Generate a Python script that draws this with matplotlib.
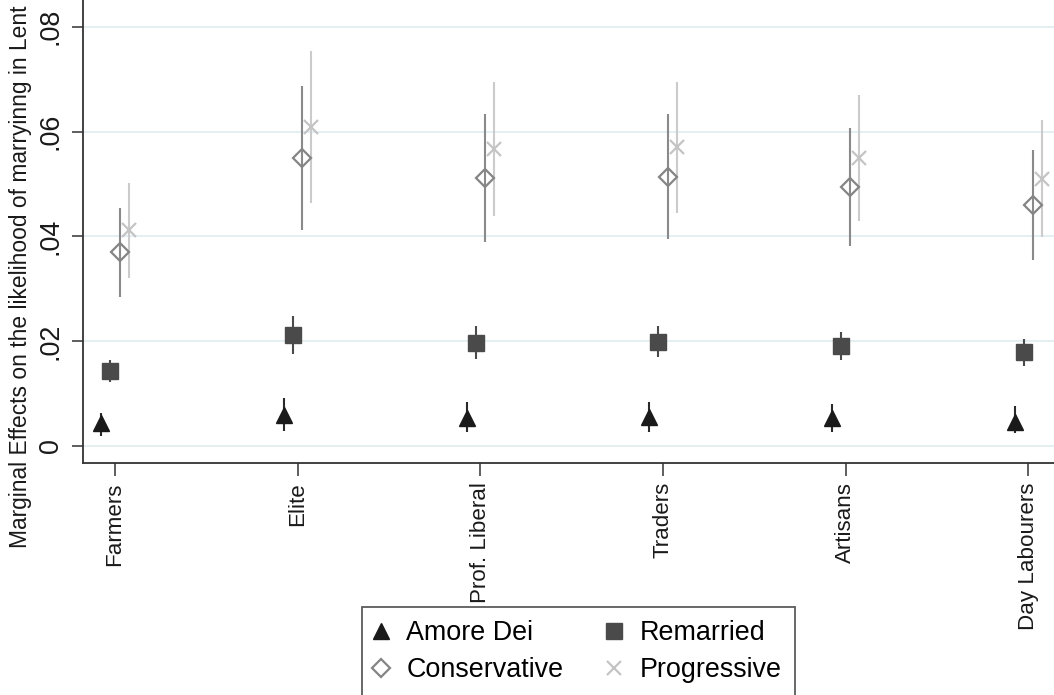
import matplotlib.pyplot as plt
import numpy as np

plt.rcParams['font.family'] = ['Liberation Sans', 'DejaVu Sans']

groups = ['Farmers', 'Elite', 'Prof. Liberal', 'Traders', 'Artisans', 'Day Labourers']
series = ['Amore Dei', 'Remarried', 'Conservative', 'Progressive']

# point estimates and 95% CI bounds
amore = [0.00445, 0.0059, 0.0053, 0.0056, 0.0054, 0.0046]
amore_lo = [0.0020, 0.0029, 0.0027, 0.0027, 0.0026, 0.0025]
amore_hi = [0.0062, 0.0091, 0.0083, 0.0083, 0.0081, 0.0076]

remar = [0.0143, 0.0212, 0.0196, 0.0198, 0.0191, 0.0179]
remar_lo = [0.0123, 0.0176, 0.0166, 0.0169, 0.0164, 0.0153]
remar_hi = [0.0165, 0.0248, 0.0228, 0.0228, 0.0218, 0.0204]

cons = [0.0370, 0.0550, 0.0511, 0.0514, 0.0495, 0.0460]
cons_lo = [0.0285, 0.0412, 0.0390, 0.0395, 0.0382, 0.0355]
cons_hi = [0.0454, 0.0686, 0.0633, 0.0633, 0.0607, 0.0565]

prog = [0.0412, 0.0609, 0.0566, 0.0570, 0.0549, 0.0509]
prog_lo = [0.0320, 0.0464, 0.0439, 0.0445, 0.0429, 0.0399]
prog_hi = [0.0502, 0.0754, 0.0695, 0.0695, 0.0670, 0.0622]

yticks = [0, 0.02, 0.04, 0.06, 0.08]
ytick_labels = ['0', '.02', '.04', '.06', '.08']

fig = plt.figure(figsize=(10.54, 6.95), dpi=100)
ax = fig.add_axes([83 / 1054, 1 - 462.7 / 695, 971 / 1054, 462.7 / 695])

x = np.arange(1, len(groups) + 1)
offsets = [-0.075, -0.025, 0.025, 0.075]
styles = [
    dict(fmt='^', ms=12, color='#1a1a1a', ecolor='#2a2a2a', mfc='#1a1a1a', mec='#1a1a1a', mew=1),
    dict(fmt='s', ms=11, color='#4a4a4a', ecolor='#4a4a4a', mfc='#4a4a4a', mec='#4a4a4a', mew=1),
    dict(fmt='D', ms=9.5, color='#858585', ecolor='#8a8a8a', mfc='none', mec='#858585', mew=1.6),
    dict(fmt='x', ms=10, color='#c4c4c4', ecolor='#cbcbcb', mfc='none', mec='#c4c4c4', mew=1.6),
]
data = [(amore, amore_lo, amore_hi), (remar, remar_lo, remar_hi),
        (cons, cons_lo, cons_hi), (prog, prog_lo, prog_hi)]

handles = []
for (est, lo, hi), off, st in zip(data, offsets, styles):
    est = np.array(est)
    err = [est - np.array(lo), np.array(hi) - est]
    eb = ax.errorbar(x + off, est, yerr=err, elinewidth=1.5, capsize=0, zorder=3, **st)
    handles.append(eb.lines[0])

ax.set_xlim(0.8248, 6.1407)
ax.set_ylim(-0.00319, 0.0851)
ax.set_yticks(yticks)
ax.set_yticklabels(ytick_labels)
ax.set_xticks(x)
ax.set_xticklabels(groups, rotation=90)
ax.grid(axis='y', color='#e2eef1', linewidth=1.3, zorder=0)
ax.set_axisbelow(True)

for s in ['top', 'right']:
    ax.spines[s].set_visible(False)
for s in ['left', 'bottom']:
    ax.spines[s].set_color('#333333')
    ax.spines[s].set_linewidth(1.3)

ax.tick_params(axis='y', labelrotation=90, labelsize=19.4, length=8, width=1.1,
               color='#333333', pad=6, labelcolor='#1a1a1a')
ax.tick_params(axis='x', labelsize=16.1, length=9, width=1.1, color='#333333',
               pad=5, labelcolor='#1a1a1a')
for lab in ax.get_yticklabels():
    lab.set_verticalalignment('center')

ax.set_ylabel('Marginal Effects on the likelihood of marryinng in Lent',
              fontsize=16.4, color='#1a1a1a')
ax.yaxis.set_label_coords(-0.0525, 0.402)

# legend fills column-wise, so reorder to get rows: Amore/Remarried, Conservative/Progressive
order = [0, 2, 1, 3]
leg = fig.legend([handles[i] for i in order], [series[i] for i in order],
                 ncol=2, loc='upper left',
                 bbox_to_anchor=(361.7 / 1054, 1 - 606.7 / 695),
                 fontsize=19.4, frameon=True, fancybox=False,
                 borderpad=0.5, handlelength=0.45, handletextpad=0.7,
                 columnspacing=1.67, labelspacing=0.42, borderaxespad=0)
leg.get_frame().set_edgecolor('#333333')
leg.get_frame().set_linewidth(1.3)

plt.savefig('out.png', dpi=100)
